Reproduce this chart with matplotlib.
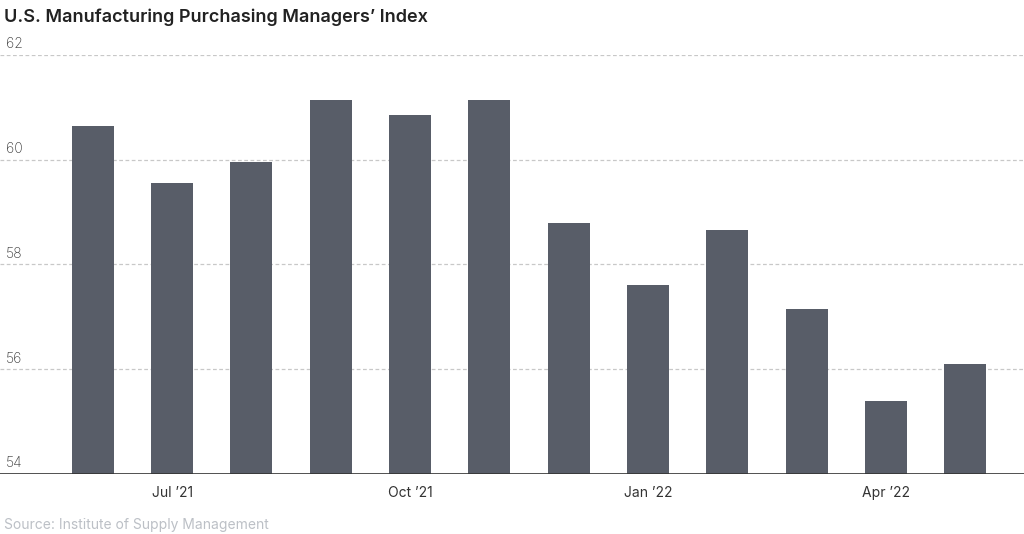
import matplotlib.pyplot as plt
import matplotlib.transforms as mtransforms

months = ["Jun", "Jul", "Aug", "Sep", "Oct", "Nov", "Dec", "Jan", "Feb", "Mar", "Apr", "May"]
pmi = [60.65, 59.55, 59.95, 61.15, 60.85, 61.15, 58.8, 57.6, 58.65, 57.15, 55.4, 56.1]
tick_pos = [1, 4, 7, 10]
tick_labels = ["Jul \u201921", "Oct \u201921", "Jan \u201922", "Apr \u201922"]
y_ticks = [54, 56, 58, 60, 62]

plt.rcParams['font.family'] = ['Inter', 'DejaVu Sans']

fig = plt.figure(figsize=(10.24, 5.34), dpi=100)
ax = fig.add_axes([0, 0.1124, 1.0, 0.7846])

x = list(range(len(months)))
ax.bar(x, pmi, width=0.53, color="#585d68", zorder=2)

ax.set_ylim(54, 62)
ax.set_xlim(-1.17, 11.74)
for v in y_ticks[1:]:
    ax.axhline(v, color="#c8c8c8", linestyle=(0, (3, 2)), linewidth=0.9, zorder=1)
ax.axhline(54, color="#333333", linewidth=1.2, zorder=3)

trans = mtransforms.blended_transform_factory(ax.transAxes, ax.transData)
for v in y_ticks:
    ax.text(0.006, v + 0.07, str(v), transform=trans, fontsize=10, color="#3a3a3a",
            ha="left", va="bottom", fontweight="light")

ax.set_yticks([])
ax.set_xticks(tick_pos)
ax.set_xticklabels(tick_labels, fontsize=10, color="#333333")
ax.tick_params(axis="x", length=0, pad=9)
for s in ax.spines.values():
    s.set_visible(False)

fig.text(0.004, 0.985, "U.S. Manufacturing Purchasing Managers\u2019 Index", fontsize=13,
         fontweight="semibold", color="#222222", ha="left", va="top")
fig.text(0.004, 0.004, "Source: Institute of Supply Management", fontsize=10,
         color="#bcc0c6", ha="left", va="bottom")

fig.savefig("out.png", dpi=100)
